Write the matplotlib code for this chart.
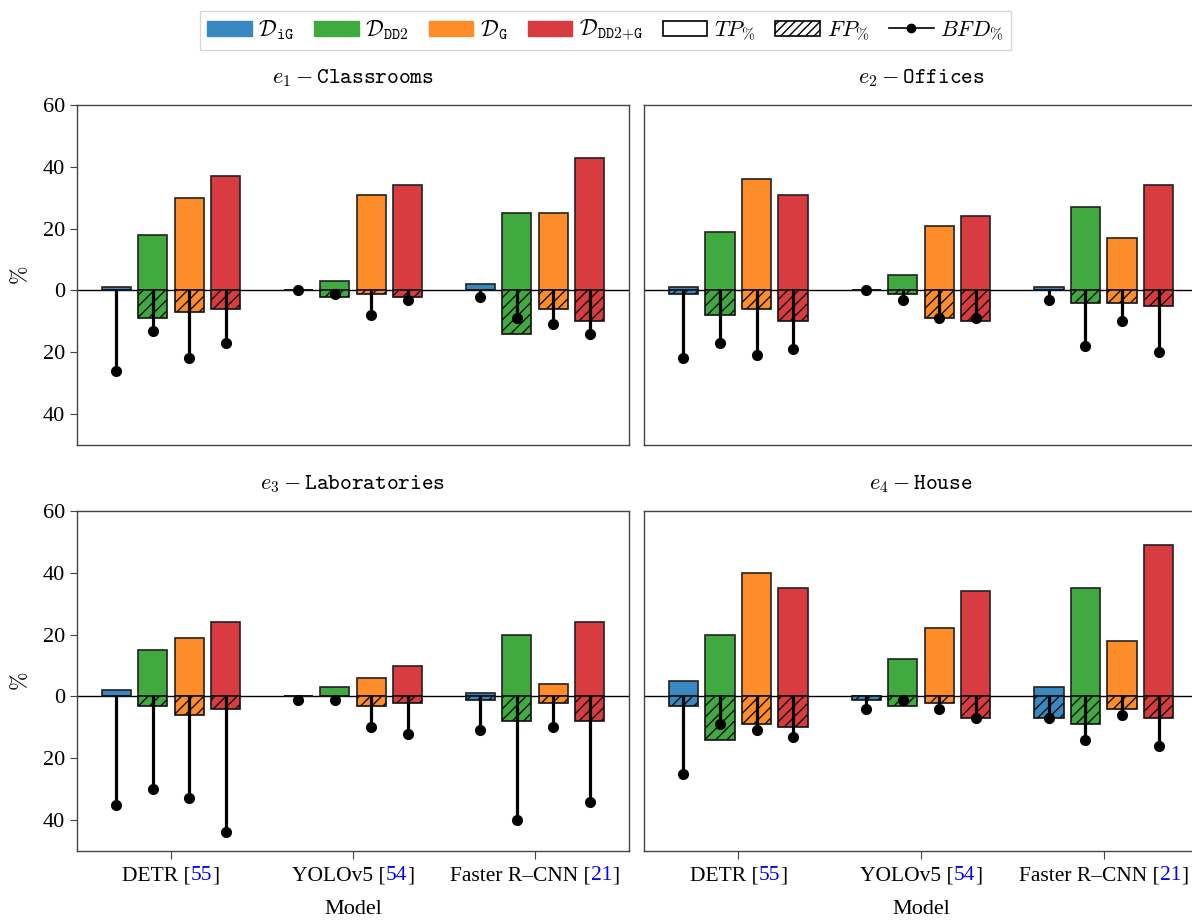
import numpy as np
import matplotlib
matplotlib.use("Agg")
import matplotlib.pyplot as plt
from matplotlib.patches import Patch
from matplotlib.lines import Line2D
from matplotlib.offsetbox import TextArea, HPacker, AnnotationBbox
from matplotlib.ticker import FuncFormatter, FixedLocator

plt.rcParams['font.family'] = ['Liberation Serif', 'DejaVu Serif']
plt.rcParams['mathtext.fontset'] = 'cm'
plt.rcParams['hatch.linewidth'] = 1.0

# ---- data ----
models = ["DETR", "YOLOv5", "Faster R\u2013CNN"]
refs = ["55", "54", "21"]
datasets = [r"$\mathcal{D}_{\mathtt{iG}}$", r"$\mathcal{D}_{\mathtt{DD2}}$",
            r"$\mathcal{D}_{\mathtt{G}}$", r"$\mathcal{D}_{\mathtt{DD2{+}G}}$"]
colors = ["#3a88c0", "#40a940", "#fe8c28", "#d83c40"]
envs = [r"$e_1 - \mathtt{Classrooms}$", r"$e_2 - \mathtt{Offices}$",
        r"$e_3 - \mathtt{Laboratories}$", r"$e_4 - \mathtt{House}$"]

# rows: dataset (iG, DD2, G, DD2+G); columns: model (DETR, YOLOv5, Faster R-CNN)
tp_e1 = [[1, 0, 2], [18, 3, 25], [30, 31, 25], [37, 34, 43]]
fp_e1 = [[0, 0, 0], [9, 2, 14], [7, 1, 6], [6, 2, 10]]
bfd_e1 = [[26, 0, 2], [13, 1, 9], [22, 8, 11], [17, 3, 14]]

tp_e2 = [[1, 0, 1], [19, 5, 27], [36, 21, 17], [31, 24, 34]]
fp_e2 = [[1, 0, 0], [8, 1, 4], [6, 9, 4], [10, 10, 5]]
bfd_e2 = [[22, 0, 3], [17, 3, 18], [21, 9, 10], [19, 9, 20]]

tp_e3 = [[2, 0, 1], [15, 3, 20], [19, 6, 4], [24, 10, 24]]
fp_e3 = [[0, 0, 1], [3, 0, 8], [6, 3, 2], [4, 2, 8]]
bfd_e3 = [[35, 1, 11], [30, 1, 40], [33, 10, 10], [44, 12, 34]]

tp_e4 = [[5, 0, 3], [20, 12, 35], [40, 22, 18], [35, 34, 49]]
fp_e4 = [[3, 1, 7], [14, 3, 9], [9, 2, 4], [10, 7, 7]]
bfd_e4 = [[25, 4, 7], [9, 1, 14], [11, 4, 6], [13, 7, 16]]

tps = [tp_e1, tp_e2, tp_e3, tp_e4]
fps = [fp_e1, fp_e2, fp_e3, fp_e4]
bfds = [bfd_e1, bfd_e2, bfd_e3, bfd_e4]

W, H = 1192, 922
fig = plt.figure(figsize=(W / 100, H / 100), dpi=100)

def px_axes(l, r, t, b):
    return fig.add_axes([l / W, 1 - b / H, (r - l) / W, (b - t) / H])

boxes = [(77, 629, 105, 445), (644, 1198, 105, 445),
         (77, 629, 511, 851), (644, 1198, 511, 851)]

x = np.arange(len(models))
offsets = [-0.3, -0.1, 0.1, 0.3]
bw = 0.16
spine_col = "#444444"

for k, (l, r, t, b) in enumerate(boxes):
    ax = px_axes(l, r, t, b)
    tp, fp, bfd = np.array(tps[k]), np.array(fps[k]), np.array(bfds[k])
    ax.axhline(0, color="black", lw=1.0, zorder=1)
    for i in range(4):
        xi = x + offsets[i]
        ax.bar(xi, tp[i], width=bw, color=colors[i], edgecolor="#222222",
               linewidth=1.2, zorder=2)
        ax.bar(xi, -fp[i], width=bw, color=colors[i], edgecolor="#111111",
               linewidth=1.2, hatch="///", zorder=2)
        ax.vlines(xi, 0, -bfd[i], color="black", lw=2.3, zorder=3)
        ax.plot(xi, -bfd[i], "o", color="black", ms=7, zorder=4)
    ax.set_xlim(-0.516, 2.516)
    ax.set_ylim(-50, 60)
    ax.yaxis.set_major_locator(FixedLocator([-40, -20, 0, 20, 40, 60]))
    ax.yaxis.set_major_formatter(FuncFormatter(lambda v, p: f"{abs(int(round(v)))}"))
    for s in ax.spines.values():
        s.set_color(spine_col)
        s.set_linewidth(1.0)
    ax.tick_params(axis="y", labelsize=16, length=5, color=spine_col)
    ax.set_title(envs[k], fontsize=16, pad=16)
    if k % 2 == 1:
        ax.tick_params(axis="y", left=False, labelleft=False)
    else:
        ax.set_ylabel(r"$\%$", fontsize=16, labelpad=8)
    if k < 2:
        ax.tick_params(axis="x", bottom=False, labelbottom=False)
    else:
        ax.set_xticks(x)
        ax.set_xticklabels([""] * len(x))
        ax.tick_params(axis="x", length=6, color=spine_col)
        for j in range(len(models)):
            tprops_k = dict(color="black", fontsize=15.5, family="Liberation Serif")
            tprops_b = dict(color="blue", fontsize=15.5, family="Liberation Serif")
            pack = HPacker(children=[TextArea(models[j] + " [", textprops=tprops_k),
                                     TextArea(refs[j], textprops=tprops_b),
                                     TextArea("]", textprops=tprops_k)],
                           align="baseline", pad=0, sep=0)
            ab = AnnotationBbox(pack, (x[j], 0), xycoords=ax.get_xaxis_transform(),
                                xybox=(0, -11), boxcoords="offset points",
                                box_alignment=(0.5, 1.0), frameon=False, pad=0,
                                annotation_clip=False)
            ax.add_artist(ab)
        ax.set_xlabel("Model", fontsize=16, labelpad=26)

handles = [Patch(facecolor=c, edgecolor=c) for c in colors]
handles += [Patch(facecolor="white", edgecolor="black", linewidth=1.2),
            Patch(facecolor="white", edgecolor="black", hatch="////", linewidth=1.2),
            Line2D([0], [0], color="black", lw=1.2, marker="o", ms=6)]
labels = datasets + [r"$TP_{\%}$", r"$FP_{\%}$", r"$BFD_{\%}$"]
fig.legend(handles, labels, loc="upper center", bbox_to_anchor=(0.508, 1.0),
           ncol=7, fontsize=16, frameon=True, fancybox=False, edgecolor="#cccccc",
           handlelength=2.0, handletextpad=0.3, columnspacing=0.9,
           borderpad=0.3)

fig.savefig("out.png", dpi=100)
